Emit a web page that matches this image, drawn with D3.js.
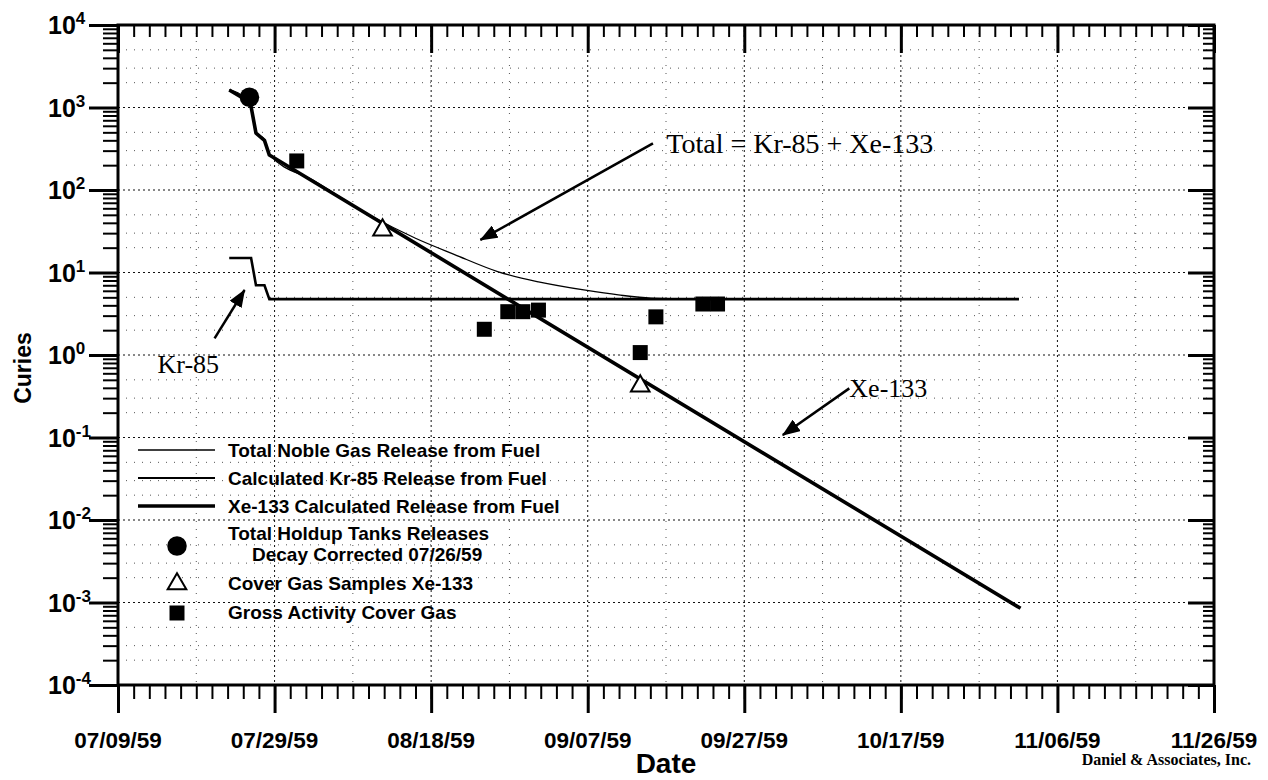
<!DOCTYPE html>
<html>
<head>
<meta charset="utf-8">
<script src="https://cdn.jsdelivr.net/npm/d3@7"></script>
<style>
body { margin: 0; background: #fff; }
svg { display: block; }
</style>
</head>
<body>
<svg width="1268" height="780"></svg>
<script>
// DATA - values (Curies vs date, 1959)
var xTickLabels = ["07/09/59", "07/29/59", "08/18/59", "09/07/59", "09/27/59", "10/17/59", "11/06/59", "11/26/59"];
var yTickExponents = [-4, -3, -2, -1, 0, 1, 2, 3, 4];

// calculated Xe-133 release from fuel
var xeDates = ["1959-07-23 05:00", "1959-07-25 10:00", "1959-07-26 00:00", "1959-07-26 15:00", "1959-07-27 17:00", "1959-07-28 08:00", "1959-11-01 07:00"];
var xeValues = [1630, 1230, 1020, 490, 400, 265, 0.00085];

// calculated Kr-85 release from fuel
var krDates = ["1959-07-23 05:00", "1959-07-26 00:00", "1959-07-26 15:00", "1959-07-27 17:00", "1959-07-28 08:00", "1959-11-01 02:00"];
var krValues = [15, 15, 7, 7, 4.75, 4.75];

// total noble gas release from fuel
var totalDates = ["1959-07-23 05:00", "1959-07-25 10:00", "1959-07-26 00:00", "1959-07-26 15:00", "1959-07-27 17:00", "1959-07-28 08:00",
	"1959-08-03 00:00", "1959-08-10 10:00", "1959-08-16 00:00", "1959-08-21 00:00", "1959-08-26 14:00", "1959-08-31 17:00",
	"1959-09-06 17:00", "1959-09-10 22:00", "1959-09-15 02:00", "1959-09-22 00:00", "1959-11-01 02:00"];
var totalValues = [1650, 1245, 1035, 497, 407, 270, 130, 48, 26, 16.5, 10.2, 7.7, 6.1, 5.35, 4.9, 4.78, 4.75];

// measured points
var holdupDates = ["1959-07-25 19:00"], holdupValues = [1330];
var coverDates = ["1959-08-11 19:00", "1959-09-13 17:00"], coverValues = [32.7, 0.42];
var grossDates = ["1959-07-31 20:00", "1959-08-24 19:00", "1959-08-27 19:00", "1959-08-29 17:00", "1959-08-31 17:00",
	"1959-09-13 17:00", "1959-09-15 17:00", "1959-09-21 17:00", "1959-09-23 14:00"];
var grossValues = [225, 2.05, 3.35, 3.35, 3.5, 1.07, 2.9, 4.15, 4.15];

// annotations (text anchor and arrow ends, in data units)
var noteTexts = ["Total = Kr-85 + Xe-133", "Kr-85", "Xe-133"];
var noteDates = ["1959-09-17 01:00", "1959-07-14 01:00", "1959-10-10 10:00"];
var noteValues = [279, 0.60, 0.313];
var arrowFromDates = ["1959-09-15 08:00", "1959-07-21 08:00", "1959-10-10 10:00"];
var arrowFromValues = [368, 1.59, 0.394];
var arrowToDates = ["1959-08-24 07:00", "1959-07-25 04:00", "1959-10-01 22:00"];
var arrowToValues = [24.8, 6.14, 0.107];

var legendLabels = ["Total Noble Gas Release from Fuel", "Calculated Kr-85 Release from Fuel", "Xe-133 Calculated Release from Fuel",
	"Total Holdup Tanks Releases", "Cover Gas Samples Xe-133", "Gross Activity Cover Gas"];

// LAYOUT  (note: "top" is a reserved window property, so plot edges get a prefix)
var svg = d3.select("svg"),
	pLeft = 118, pRight = 1214, pTop = 25, pBottom = 685,
	sans = "'Liberation Sans', Arial, sans-serif",
	serif = "'Liberation Serif', 'Times New Roman', serif";

var parseTime = d3.timeParse("%Y-%m-%d %H:%M");
function labelDate(s) {	// "07/29/59" -> 1959 date (d3 %y would give 2059)
	var p = s.split("/");
	return new Date(1900 + (+p[2]), +p[0] - 1, +p[1]);
}
function zip(dates, values) {
	return dates.map(function(d, i) { return {date: parseTime(d), value: values[i]}; });
}

var majorX = xTickLabels.map(labelDate),
	x = d3.scaleTime().domain([majorX[0], majorX[majorX.length - 1]]).range([pLeft, pRight]),
	y = d3.scaleLog().domain([1e-4, 1e4]).range([pBottom, pTop]);

var minorX = d3.range(0, 141, 2).map(function(d) { return d3.timeDay.offset(majorX[0], d); }),
	majorY = yTickExponents.map(function(e) { return Math.pow(10, e); }),
	minorY = [];
yTickExponents.slice(0, -1).forEach(function(e) {
	d3.range(2, 10).forEach(function(m) { minorY.push(m * Math.pow(10, e)); });
});

// GRID - dashed at the major ticks, sparse dots in between (like the scan)
var grid = svg.append("g");
[2, 3, 5].forEach(function(m) {
	yTickExponents.slice(0, -1).forEach(function(e) {
		var v = y(m * Math.pow(10, e));
		grid.append("line").attr("x1", pLeft).attr("x2", pRight).attr("y1", v).attr("y2", v)
			.attr("stroke", "#555").attr("stroke-width", 1).attr("stroke-dasharray", "1,7");
	});
});
d3.range(10, 140, 10).forEach(function(d) {
	if (d % 20 == 0) return;
	var v = x(d3.timeDay.offset(majorX[0], d));
	grid.append("line").attr("x1", v).attr("x2", v).attr("y1", pTop).attr("y2", pBottom)
		.attr("stroke", "#555").attr("stroke-width", 1).attr("stroke-dasharray", "1,7");
});
majorY.slice(1, -1).forEach(function(d) {
	grid.append("line").attr("x1", pLeft).attr("x2", pRight).attr("y1", y(d)).attr("y2", y(d))
		.attr("stroke", "#111").attr("stroke-width", 1).attr("stroke-dasharray", "2,3");
});
majorX.slice(1, -1).forEach(function(d) {
	grid.append("line").attr("x1", x(d)).attr("x2", x(d)).attr("y1", pTop).attr("y2", pBottom)
		.attr("stroke", "#111").attr("stroke-width", 1).attr("stroke-dasharray", "2,3");
});

// AXES - outward ticks bottom/left, inward ticks top/right
function ticks(axis, tx, ty, width) {
	svg.append("g").attr("transform", "translate(" + tx + "," + ty + ")")
		.call(axis.tickFormat(""))
		.call(function(g) { g.select(".domain").remove(); })
		.selectAll("line").attr("stroke", "#000").attr("stroke-width", width);
}
ticks(d3.axisBottom(x).tickValues(minorX).tickSize(14), 0, pBottom, 2);
ticks(d3.axisBottom(x).tickValues(majorX).tickSize(28), 0, pBottom, 3);
ticks(d3.axisBottom(x).tickValues(minorX).tickSize(12), 0, pTop, 2);
ticks(d3.axisBottom(x).tickValues(majorX).tickSize(28), 0, pTop, 3);
ticks(d3.axisLeft(y).tickValues(minorY).tickSize(15), pLeft, 0, 2);
ticks(d3.axisLeft(y).tickValues(majorY).tickSize(29), pLeft, 0, 3);
ticks(d3.axisLeft(y).tickValues(minorY).tickSize(11), pRight, 0, 2);
ticks(d3.axisLeft(y).tickValues(majorY).tickSize(26), pRight, 0, 3);

svg.append("rect").attr("x", pLeft).attr("y", pTop).attr("width", pRight - pLeft).attr("height", pBottom - pTop)
	.attr("fill", "none").attr("stroke", "#000").attr("stroke-width", 3);

// tick labels
svg.append("g").selectAll("text").data(majorX).join("text")
	.attr("x", function(d) { return x(d); }).attr("y", 748)
	.attr("text-anchor", "middle").attr("font-family", sans).attr("font-weight", "bold").attr("font-size", 22.5)
	.text(function(d, i) { return xTickLabels[i]; });

var yl = svg.append("g").selectAll("text").data(yTickExponents).join("text")
	.attr("x", 48).attr("y", function(e) { return y(Math.pow(10, e)) + 9; })
	.attr("font-family", sans).attr("font-weight", "bold").attr("font-size", 25);
yl.append("tspan").text("10");
yl.append("tspan").attr("dy", -10).attr("font-size", 17).text(function(e) { return e; });

svg.append("text").attr("x", (pLeft + pRight) / 2).attr("y", 773).attr("text-anchor", "middle")
	.attr("font-family", sans).attr("font-weight", "bold").attr("font-size", 28).text("Date");
svg.append("text").attr("transform", "translate(31,368) rotate(-90)").attr("text-anchor", "middle")
	.attr("font-family", sans).attr("font-weight", "bold").attr("font-size", 23).text("Curies");
svg.append("text").attr("x", 1251).attr("y", 765).attr("text-anchor", "end")
	.attr("font-family", serif).attr("font-weight", "bold").attr("font-size", 16).text("Daniel & Associates, Inc.");

// SERIES
var line = d3.line().x(function(d) { return x(d.date); }).y(function(d) { return y(d.value); });
svg.append("path").datum(zip(totalDates, totalValues)).attr("d", line.curve(d3.curveMonotoneX))
	.attr("fill", "none").attr("stroke", "#000").attr("stroke-width", 1.3);
line.curve(d3.curveLinear);
svg.append("path").datum(zip(krDates, krValues)).attr("d", line)
	.attr("fill", "none").attr("stroke", "#000").attr("stroke-width", 2.6);
svg.append("path").datum(zip(xeDates, xeValues)).attr("d", line)
	.attr("fill", "none").attr("stroke", "#000").attr("stroke-width", 3.6).attr("stroke-linejoin", "round");

var circle = d3.symbol().type(d3.symbolCircle).size(300),
	triangle = d3.symbol().type(d3.symbolTriangle).size(150),
	square = d3.symbol().type(d3.symbolSquare).size(225);

svg.append("g").selectAll("path").data(zip(holdupDates, holdupValues)).join("path")
	.attr("transform", function(d) { return "translate(" + x(d.date) + "," + y(d.value) + ")"; })
	.attr("d", circle).attr("fill", "#000");
svg.append("g").selectAll("path").data(zip(coverDates, coverValues)).join("path")
	.attr("transform", function(d) { return "translate(" + x(d.date) + "," + y(d.value) + ")"; })
	.attr("d", triangle).attr("fill", "#fff").attr("stroke", "#000").attr("stroke-width", 2);
svg.append("g").selectAll("path").data(zip(grossDates, grossValues)).join("path")
	.attr("transform", function(d) { return "translate(" + x(d.date) + "," + y(d.value) + ")"; })
	.attr("d", square).attr("fill", "#000");

// ANNOTATIONS
svg.append("defs").append("marker").attr("id", "head")
	.attr("markerUnits", "userSpaceOnUse").attr("markerWidth", 18).attr("markerHeight", 14)
	.attr("refX", 17).attr("refY", 7).attr("orient", "auto")
	.append("path").attr("d", "M0,0L18,7L0,14z").attr("fill", "#000");

noteTexts.forEach(function(t, i) {
	svg.append("line")
		.attr("x1", x(parseTime(arrowFromDates[i]))).attr("y1", y(arrowFromValues[i]))
		.attr("x2", x(parseTime(arrowToDates[i]))).attr("y2", y(arrowToValues[i]))
		.attr("stroke", "#000").attr("stroke-width", 2.5).attr("marker-end", "url(#head)");
	svg.append("text").attr("x", x(parseTime(noteDates[i]))).attr("y", y(noteValues[i]))
		.attr("font-family", serif).attr("font-size", i == 0 ? 28 : 26).text(t);
});

// LEGEND
var lg = svg.append("g").attr("font-family", sans).attr("font-weight", "bold").attr("font-size", 19);
[[450, 1.3], [478, 2.2], [506, 3.4]].forEach(function(r) {
	lg.append("line").attr("x1", 138).attr("x2", 215).attr("y1", r[0]).attr("y2", r[0])
		.attr("stroke", "#000").attr("stroke-width", r[1]);
});
lg.append("text").attr("x", 228).attr("y", 457).text(legendLabels[0]);
lg.append("text").attr("x", 228).attr("y", 485).text(legendLabels[1]);
lg.append("text").attr("x", 228).attr("y", 513).text(legendLabels[2]);
lg.append("text").attr("x", 228).attr("y", 540).text(legendLabels[3]);
lg.append("text").attr("x", 252).attr("y", 561).text("Decay Corrected 07/26/59");
lg.append("text").attr("x", 228).attr("y", 590).text(legendLabels[4]);
lg.append("text").attr("x", 228).attr("y", 619).text(legendLabels[5]);
lg.append("path").attr("transform", "translate(177,546)").attr("d", circle).attr("fill", "#000");
lg.append("path").attr("transform", "translate(177,584)").attr("d", triangle)
	.attr("fill", "#fff").attr("stroke", "#000").attr("stroke-width", 2);
lg.append("path").attr("transform", "translate(177,613)").attr("d", square).attr("fill", "#000");
</script>
</body>
</html>
